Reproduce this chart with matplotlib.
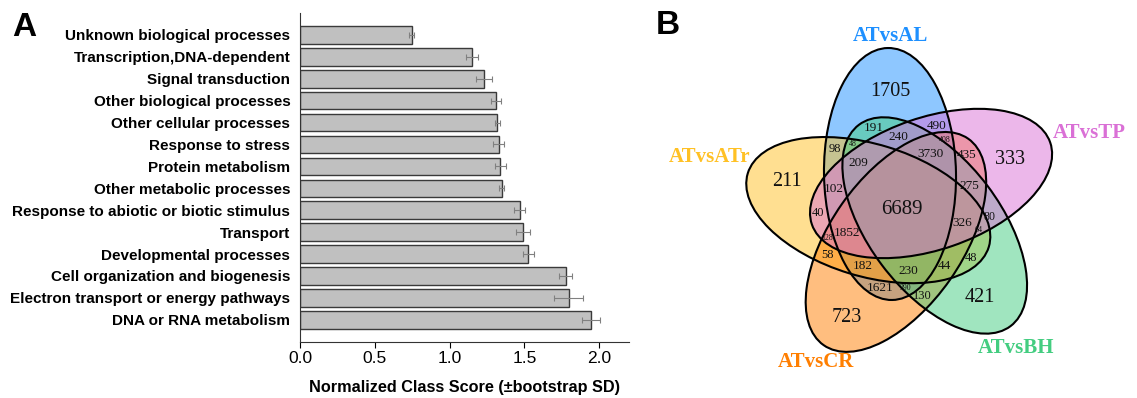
import matplotlib.pyplot as plt
import numpy as np
from matplotlib.patches import Ellipse

# Panel A data (top to bottom)
categories = ['Unknown biological processes', 'Transcription,DNA-dependent',
              'Signal transduction', 'Other biological processes',
              'Other cellular processes', 'Response to stress',
              'Protein metabolism', 'Other metabolic processes',
              'Response to abiotic or biotic stimulus', 'Transport',
              'Developmental processes', 'Cell organization and biogenesis',
              'Electron transport or energy pathways', 'DNA or RNA metabolism']
scores = [0.747, 1.148, 1.229, 1.309, 1.320, 1.329, 1.340, 1.349,
          1.469, 1.490, 1.527, 1.777, 1.797, 1.946]
score_sd = [0.017, 0.041, 0.052, 0.035, 0.017, 0.037, 0.038, 0.018,
            0.037, 0.046, 0.035, 0.043, 0.098, 0.057]

# Panel B data
set_names = ['ATvsAL', 'ATvsTP', 'ATvsBH', 'ATvsCR', 'ATvsATr']
set_colors = ['#1E90FF', '#DA70D6', '#43CD80', '#FF7F00', '#FFC125']
region_counts = [1705, 191, 490, 240, 408, 48, 98, 3730, 435, 333, 209,
                 211, 102, 275, 6689, 40, 80, 326, 64, 1852, 128, 58, 48,
                 182, 44, 230, 1621, 390, 130, 421, 723]

# layout of panel B (pixel positions, y measured from top)
region_pos = [(890, 91, 14.5), (874, 128, 9.5), (937, 126, 9.5), (898, 137, 9.5),
              (945, 140, 5.7), (853, 144, 5.7), (835, 149, 9), (931, 154, 9.5),
              (967, 155, 9.5), (1010, 160, 14.5), (858, 163, 9.5), (787, 182, 14.5),
              (834, 189, 9.5), (969, 186, 9.5), (902, 209, 15), (818, 213, 9),
              (989, 217, 8.5), (962, 223, 9.5), (979, 230, 5.7), (847, 233, 9.5),
              (827, 238, 5.7), (827, 255, 9), (971, 258, 9), (863, 266, 9.5),
              (944, 266, 9.5), (908, 271, 9.5), (880, 288, 9.5), (906, 288, 5.7),
              (922, 296, 9), (980, 298, 14.5), (847, 318, 14.5)]
label_pos = [(890, 36), (1089, 133), (1016, 348), (816, 362), (710, 157)]
fill_order = [0, 4, 3, 2, 1]

W, H = 1137, 398
fig = plt.figure(figsize=(W / 100, H / 100), dpi=100)

# ---- Panel A: bar chart
ax = fig.add_axes([300 / W, 1 - 341.7 / H, 329 / W, (341.7 - 13) / H])
y = np.arange(len(categories))
ax.barh(y, scores, height=0.8, color='#C0C0C0', edgecolor='#3a3a3a', linewidth=1)
ax.errorbar(scores, y, xerr=score_sd, fmt='none', ecolor='#808080',
            elinewidth=0.8, capsize=2.5, capthick=0.8)
ax.set_ylim(14, -1)
ax.set_xlim(0, 2.2)
ax.set_xticks([0, 0.5, 1.0, 1.5, 2.0])
ax.set_xticklabels(['0.0', '0.5', '1.0', '1.5', '2.0'], family='Liberation Sans')
ax.set_yticks(y)
ax.set_yticklabels(categories, fontweight='bold', fontsize=11, family='Liberation Sans')
ax.tick_params(axis='y', length=0, pad=7)
ax.tick_params(axis='x', length=4, labelsize=12.5, pad=3)
for s in ['top', 'right']:
    ax.spines[s].set_visible(False)
ax.spines['left'].set_color('#333333')
ax.spines['bottom'].set_color('#333333')
ax.set_xlabel('Normalized Class Score (\u00b1bootstrap SD)', fontweight='bold',
              fontsize=11.7, family='Liberation Sans', labelpad=10)

# ---- Panel B: five-set Venn diagram
vax = fig.add_axes([0, 0, 1, 1])
vax.set_xlim(0, W)
vax.set_ylim(0, H)
vax.axis('off')
vax.patch.set_alpha(0)

cx, cy = 904, H - 207
off_r, off_a = np.hypot(14, 33), np.degrees(np.arctan2(33, -14))
semi_a, semi_b, major_ang = 126, 66, 91


def ellipse_geom(i):
    rot = -72 * i
    ex = cx + off_r * np.cos(np.radians(off_a + rot))
    ey = cy + off_r * np.sin(np.radians(off_a + rot))
    return (ex, ey), major_ang + rot


for i in fill_order:
    c, ang = ellipse_geom(i)
    vax.add_patch(Ellipse(c, 2 * semi_a, 2 * semi_b, angle=ang,
                          facecolor=set_colors[i], alpha=0.5, edgecolor='none'))
for i in range(len(set_colors)):
    c, ang = ellipse_geom(i)
    vax.add_patch(Ellipse(c, 2 * semi_a, 2 * semi_b, angle=ang,
                          facecolor='none', edgecolor='black', linewidth=1.5))

for n, (px, py, fs) in zip(region_counts, region_pos):
    vax.text(px, H - py, str(n), ha='center', va='center', fontsize=fs,
             family='Liberation Serif', color='#111111')
for name, col, (px, py) in zip(set_names, set_colors, label_pos):
    vax.text(px, H - py, name, ha='center', va='center', fontsize=15,
             fontweight='bold', family='Liberation Serif', color=col)

fig.text(12 / W, 1 - 28 / H, 'A', fontsize=24, fontweight='bold',
         family='Liberation Sans', ha='left', va='center')
fig.text(656 / W, 1 - 25 / H, 'B', fontsize=24, fontweight='bold',
         family='Liberation Sans', ha='left', va='center')

fig.savefig('out.png', dpi=100)
